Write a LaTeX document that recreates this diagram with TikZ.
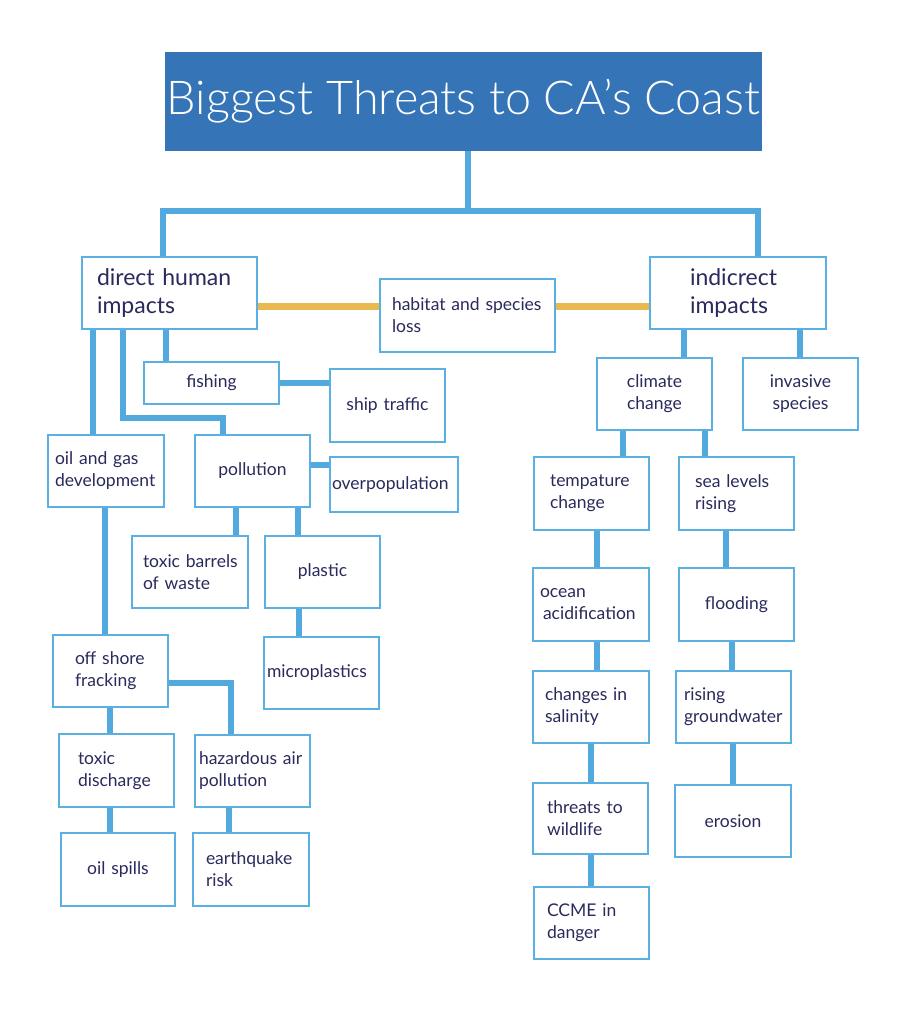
\documentclass[tikz,border=0pt]{standalone}
\usepackage{fontspec}
\setmainfont{Lato}
\IfFontExistsTF{Lato Light}{\newfontfamily\titlefont{Lato Light}}{\newfontfamily\titlefont{Lato}}
\definecolor{titleblue}{HTML}{3574B6}
\definecolor{connblue}{HTML}{52A9DE}
\definecolor{boxblue}{HTML}{5AB0E2}
\definecolor{linkyellow}{HTML}{E9B94F}
\definecolor{navy}{HTML}{2A2A5C}
\newcommand\smallf{\fontsize{17.5}{22}\selectfont}
\newcommand\bigf{\fontsize{23}{28.5}\selectfont}
\hyphenpenalty=10000
\exhyphenpenalty=10000
\pgfdeclarelayer{bg}
\pgfsetlayers{bg,main}
\tikzset{
  box/.style={draw=boxblue, line width=2pt, fill=white, inner ysep=0pt, outer sep=0pt, text=navy, font=\smallf},
  conn/.style={draw=connblue, line width=6.5pt, line cap=butt, line join=miter},
  hlink/.style={draw=linkyellow, line width=7pt, line cap=butt}
}
\newcommand\mybox[8]{%
  \pgfmathsetmacro\bh{#5-#3}\pgfmathsetmacro\tw{#4-#2-2*#6}%
  \pgfmathsetmacro\cx{(#2+#4)/2}\pgfmathsetmacro\cy{(#3+#5)/2}%
  \node[box, minimum height=\bh pt, text width=\tw pt, inner xsep=#6pt, #7] (#1) at (\cx,\cy) {#8};}
\begin{document}
\begin{tikzpicture}[x=1pt,y=-1pt]
\useasboundingbox (0,0) rectangle (922,1020);
\node[fill=titleblue, minimum width=597pt, minimum height=99pt, inner sep=0pt, outer sep=0pt, text=white,
      font=\titlefont\fontsize{46.7}{50}\selectfont] (title) at (463.5,101.5) {Biggest Threats to CA’s Coast};
% top level
\mybox{direct}{82}{257}{257}{329}{15}{align=left,font=\bigf}{direct~human\\impacts}
\mybox{habitat}{380}{279}{555}{352}{12}{align=left}{habitat~and~species\\loss}
\mybox{indirect}{650}{257}{826}{329}{40}{align=left,font=\bigf}{indicrect\\impacts}
% left branch
\mybox{fishing}{144}{362}{279}{404}{3}{align=center}{fishing}
\mybox{ship}{330}{369}{445}{442}{3}{align=center}{ship~traffic}
\mybox{oilgas}{48}{435}{164}{507}{7}{align=left}{oil~and~gas\\development}
\mybox{pollution}{195}{435}{310}{507}{3}{align=center}{pollution}
\mybox{overpop}{330}{457}{458}{512}{2}{align=left}{overpopulation}
\mybox{barrels}{132}{536}{248}{608}{11}{align=left}{toxic~barrels\\of~waste}
\mybox{plastic}{265}{536}{380}{608}{3}{align=center}{plastic}
\mybox{micro}{264}{637}{379}{709}{3}{align=left}{microplastics}
\mybox{offshore}{53}{635}{168}{707}{22}{align=left}{off~shore\\fracking}
\mybox{toxicdis}{59}{734}{174}{807}{19}{align=left}{toxic\\discharge}
\mybox{oilspills}{61}{833}{175}{906}{3}{align=center}{oil~spills}
\mybox{hazard}{195}{735}{310}{807}{4}{align=left}{hazardous~air\\pollution}
\mybox{quake}{193}{833}{309}{906}{13}{align=left}{earthquake\\risk}
% right branch
\mybox{climate}{597}{358}{712}{430}{3}{align=center}{climate\\change}
\mybox{invasive}{743}{358}{858}{430}{3}{align=center}{invasive\\species}
\mybox{temp}{534}{457}{649}{530}{16}{align=left}{tempature\\change}
\mybox{sea}{679}{457}{794}{530}{16}{align=left}{sea~levels\\rising}
\mybox{ocean}{533}{568}{649}{641}{7}{align=left}{ocean\\\hspace*{3pt}acidification}
\mybox{flood}{679}{568}{794}{641}{3}{align=center}{flooding}
\mybox{changes}{533}{671}{649}{743}{12}{align=left}{changes~in\\salinity}
\mybox{rising}{676}{671}{791}{743}{8}{align=left}{rising\\groundwater}
\mybox{threats}{533}{783}{648}{854}{14}{align=left}{threats~to\\wildlife}
\mybox{erosion}{675}{785}{791}{857}{3}{align=center}{erosion}
\mybox{ccme}{534}{887}{649}{959}{13}{align=left}{CCME~in\\danger}
% junction points of the top bracket
\coordinate (hl) at (163,211);
\coordinate (hr) at (758,211);
\coordinate (hm) at (468,211);
\begin{pgfonlayer}{bg}
\draw[conn] ([xshift=81pt]direct.north west) -- (hl) -- (hr) -- ([xshift=108pt]indirect.north west);
\draw[conn] (hm) -- ([xshift=4.5pt]title.south);
% yellow links
\draw[hlink] ([yshift=-49pt]direct.north east) -- ([yshift=-27pt]habitat.north west);
\draw[hlink] ([yshift=-27pt]habitat.north east) -- ([yshift=-49pt]indirect.north west);
% direct branch
\draw[conn] ([xshift=11pt]direct.south west) -- ([xshift=45pt]oilgas.north west);
\draw[conn] ([xshift=41pt]direct.south west) -- ++(0,89) -| ([xshift=28pt]pollution.north west);
\draw[conn] ([xshift=84pt]direct.south west) -- ([xshift=22pt]fishing.north west);
\draw[conn] (fishing.east) -- ([yshift=-14pt]ship.north west);
\draw[conn] ([yshift=-30pt]pollution.north east) -- ([yshift=-8pt]overpop.north west);
\draw[conn] ([xshift=41pt]pollution.south west) -- ([xshift=104pt]barrels.north west);
\draw[conn] ([xshift=103pt]pollution.south west) -- ([xshift=33pt]plastic.north west);
\draw[conn] ([xshift=34pt]plastic.south west) -- ([xshift=35pt]micro.north west);
\draw[conn] ([xshift=57pt]oilgas.south west) -- ([xshift=52pt]offshore.north west);
\draw[conn] ([xshift=57pt]offshore.south west) -- ([xshift=51pt]toxicdis.north west);
\draw[conn] ([xshift=51pt]toxicdis.south west) -- ([xshift=49pt]oilspills.north west);
\draw[conn] ([yshift=-48pt]offshore.north east) -| ([xshift=36pt]hazard.north west);
\draw[conn] ([xshift=34pt]hazard.south west) -- ([xshift=36pt]quake.north west);
% indirect branch
\draw[conn] ([xshift=34pt]indirect.south west) -- ([xshift=87pt]climate.north west);
\draw[conn] ([xshift=150pt]indirect.south west) -- ([xshift=57pt]invasive.north west);
\draw[conn] ([xshift=26pt]climate.south west) -- ([xshift=89pt]temp.north west);
\draw[conn] ([xshift=108pt]climate.south west) -- ([xshift=26pt]sea.north west);
\draw[conn] ([xshift=63pt]temp.south west) -- ([xshift=64pt]ocean.north west);
\draw[conn] ([xshift=64pt]ocean.south west) -- ([xshift=64pt]changes.north west);
\draw[conn] ([xshift=58pt]changes.south west) -- ([xshift=58pt]threats.north west);
\draw[conn] ([xshift=58pt]threats.south west) -- ([xshift=57pt]ccme.north west);
\draw[conn] ([xshift=47pt]sea.south west) -- ([xshift=47pt]flood.north west);
\draw[conn] ([xshift=53pt]flood.south west) -- ([xshift=56pt]rising.north west);
\draw[conn] ([xshift=57pt]rising.south west) -- ([xshift=58pt]erosion.north west);
\end{pgfonlayer}
\end{tikzpicture}
\end{document}
